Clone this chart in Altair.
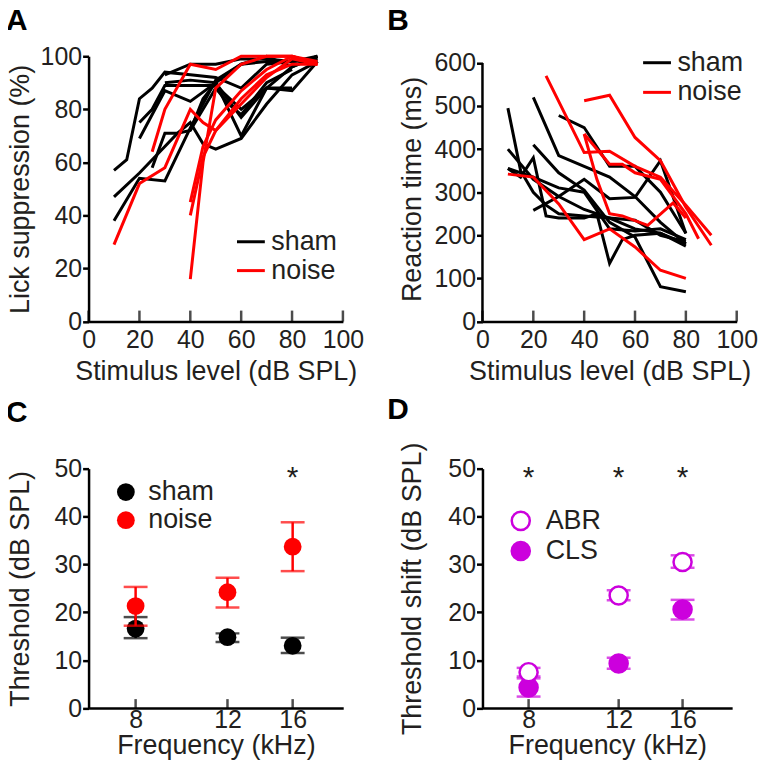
import altair as alt
import pandas as pd

FONT = "Liberation Sans"
TXT = "#231f20"
RED = "#ff0000"
MAG = "#cc00dd"

# ---------------- Panel A: lick suppression (%) per animal ----------------
A_sham_x = [
    [10, 15, 20, 25, 30, 40, 50, 60, 70, 80, 90],
    [10, 20, 30, 35, 40, 45, 50, 60, 70, 80, 90],
    [10, 20, 30, 40, 50, 60, 70, 80, 90],
    [20, 25, 30, 40, 50, 60, 70, 80],
    [20, 30, 40, 50, 60, 70, 80, 90],
    [25, 30, 35, 40, 50, 55, 60, 70, 80],
    [30, 40, 50, 60, 70, 80, 90],
    [40, 45, 50, 55, 60, 70, 80, 90],
    [30, 40, 50, 60, 70, 80, 90],
]
A_sham_y = [
    [57, 61, 84, 88, 94, 93, 92, 88, 97, 98, 100],
    [47, 56, 66, 71, 75, 67, 65, 69, 82, 93, 98],
    [38, 54, 53, 73, 91, 97, 98, 98, 99],
    [75, 80, 89, 89, 89, 80, 88, 88],
    [69, 87, 83, 90, 77, 88, 87, 98],
    [58, 71, 71, 72, 88, 82, 78, 90, 95],
    [90, 91, 90, 97, 100, 96, 100],
    [72, 84, 90, 80, 70, 88, 96, 100],
    [93, 97, 97, 99, 99, 98, 99],
]
A_noise_x = [
    [10, 20, 30, 40, 45, 50, 60, 70, 80, 90],
    [25, 30, 40, 50, 60, 70, 80, 90],
    [40, 45, 50, 60, 70, 80, 90],
    [40, 45, 50, 60, 70, 80, 90],
    [40, 45, 50, 60, 70, 80, 90],
]
A_noise_y = [
    [29, 52, 58, 80, 75, 72, 82, 92, 99, 97],
    [64, 80, 97, 95, 100, 100, 100, 97],
    [16, 60, 88, 97, 100, 100, 97],
    [40, 62, 72, 84, 93, 97, 97],
    [45, 66, 76, 87, 95, 100, 98],
]
A_y_ticks = [0, 20, 40, 60, 80, 100]

# ---------------- Panel B: reaction time (ms) per animal ----------------
B_sham_x = [
    [10, 15, 20, 25, 30, 40, 50, 60, 70, 80],
    [10, 20, 30, 40, 50, 60, 70, 80],
    [10, 15, 20, 25, 30, 40, 45, 50, 55, 60, 70, 80],
    [20, 30, 40, 50, 60, 70, 80],
    [30, 40, 50, 60, 70, 80],
    [20, 30, 40, 50, 60, 70, 80],
    [10, 20, 30, 40, 50, 60, 70, 80],
    [20, 30, 40, 50, 60, 70, 80],
]
B_sham_y = [
    [495, 350, 300, 270, 250, 245, 240, 215, 205, 175],
    [400, 330, 290, 260, 240, 235, 200, 185],
    [355, 335, 380, 245, 240, 240, 250, 135, 190, 200, 205, 180],
    [520, 385, 360, 335, 290, 230, 180],
    [478, 450, 360, 360, 300, 205],
    [258, 290, 330, 285, 288, 373, 204],
    [355, 335, 310, 300, 215, 210, 215, 190],
    [410, 345, 305, 230, 196, 81, 69],
]
B_noise_x = [
    [25, 40, 50, 60, 70, 80, 90],
    [40, 50, 60, 70, 80, 90],
    [40, 50, 55, 60, 70, 80, 85],
    [10, 20, 30, 40, 50, 60, 70, 80],
    [40, 45, 50, 55, 65, 75, 80],
]
B_noise_y = [
    [570, 392, 395, 360, 335, 270, 200],
    [512, 525, 427, 373, 265, 177],
    [435, 365, 365, 345, 330, 250, 192],
    [342, 335, 273, 190, 215, 173, 119, 100],
    [435, 330, 250, 245, 223, 275, 240],
]
B_y_ticks = [0, 100, 200, 300, 400, 500, 600]

LEVEL_TICKS = [0, 20, 40, 60, 80, 100]

# ---------------- Panel C: behavioural threshold (dB SPL) ----------------
FREQS = [8, 12, 16]
C_sham_mean = [16.6, 14.8, 13.0]
C_sham_lo = [14.6, 13.8, 11.5]
C_sham_hi = [19.0, 15.6, 14.7]
C_noise_mean = [21.3, 24.2, 33.7]
C_noise_lo = [17.2, 21.0, 28.6]
C_noise_hi = [25.3, 27.2, 38.8]
C_star_freq = [16]
C_star_y = [46.2]

# ---------------- Panel D: threshold shift (dB) ----------------
D_abr_mean = [7.5, 23.5, 30.5]
D_abr_lo = [6.6, 22.5, 29.3]
D_abr_hi = [8.4, 24.6, 31.9]
D_cls_mean = [4.3, 9.3, 20.6]
D_cls_lo = [2.4, 8.2, 18.5]
D_cls_hi = [6.2, 10.5, 22.6]
D_star_freq = [8, 12, 16]
D_star_y = [46.2, 46.2, 46.2]
TH_TICKS = [0, 10, 20, 30, 40, 50]


def lines_df(xs, ys, group):
    rows = []
    for i, (lx, ly) in enumerate(zip(xs, ys)):
        for x, y in zip(lx, ly):
            rows.append({"x": x, "y": y, "group": group, "id": f"{group}{i}"})
    return pd.DataFrame(rows)


def letter(t, dx, dy):
    return alt.TitleParams(t, anchor="start", frame="group", fontSize=30, fontWeight="bold",
                           font=FONT, color="black", dx=dx, dy=dy)


def line_panel(sx, sy, nx, ny, ymax, yvals, ytitle, w, h, let, ldx, ldy, legx, legy, rowpad,
               ytitlex, hide_domain):
    df = pd.concat([lines_df(sx, sy, "sham"), lines_df(nx, ny, "noise")], ignore_index=True)
    X = alt.X("x:Q", scale=alt.Scale(domain=[0, 100], nice=False),
              axis=alt.Axis(values=LEVEL_TICKS, ticks=False, tickSize=0, labelPadding=6,
                            labelFlush=False,
                            title="Stimulus level (dB SPL)", titleY=58,
                            titleBaseline="alphabetic"))
    yax = dict(values=yvals, title=ytitle, titleX=ytitlex)
    if hide_domain:
        yax["domain"] = False
    Y = alt.Y("y:Q", scale=alt.Scale(domain=[0, ymax], nice=False), axis=alt.Axis(**yax))
    color = alt.Color("group:N", scale=alt.Scale(domain=["sham", "noise"], range=["black", RED]),
                      legend=alt.Legend(title=None, orient="none", legendX=legx, legendY=legy,
                                        symbolType="stroke", symbolSize=784, symbolStrokeWidth=3,
                                        labelFontSize=27, labelFont=FONT, labelColor=TXT,
                                        labelOffset=5, rowPadding=rowpad, padding=0))
    base = alt.Chart(df)
    sham = base.transform_filter(alt.datum.group == "sham").mark_line(strokeWidth=3).encode(
        x=X, y=Y, color=color, detail="id:N")
    noise = base.transform_filter(alt.datum.group == "noise").mark_line(strokeWidth=3).encode(
        x=X, y=Y, color=color, detail="id:N")
    ticks = alt.Chart(pd.DataFrame({"x": LEVEL_TICKS})).mark_tick(
        orient="vertical", size=11, thickness=2.5, color="black", yOffset=-5.5).encode(
        x=X, y=alt.datum(0))
    layers = [sham, noise, ticks]
    if hide_domain:
        ax = alt.Chart(pd.DataFrame({"x": [0], "y": [0], "y2": [yvals[-1]]})).mark_rule(
            strokeWidth=2.5, color="black").encode(x=X, y=Y, y2="y2:Q")
        layers.append(ax)
    return alt.layer(*layers).properties(width=w, height=h, title=letter(let, ldx, ldy))


def freq_x(field):
    return alt.X(field, scale=alt.Scale(type="log", domain=[6.5, 20], nice=False),
                 axis=alt.Axis(values=FREQS, format="d", ticks=False, tickSize=0, labelPadding=0,
                               labelFlush=False,
                               title="Frequency (kHz)", titleY=46, titleBaseline="alphabetic"))


def th_y(field, title, tx):
    return alt.Y(field, scale=alt.Scale(domain=[0, 50], nice=False),
                 axis=alt.Axis(values=TH_TICKS, title=title, titleX=tx))


def errbars(df, col, title, tx):
    rule = alt.Chart(df).mark_rule(strokeWidth=2.5, color=col).encode(
        x=freq_x("f:Q"), y=th_y("lo:Q", title, tx), y2="hi:Q")
    caps = alt.Chart(df).transform_fold(["lo", "hi"], as_=["k", "v"]).mark_tick(
        orient="horizontal", size=24, thickness=2.5, color=col).encode(
        x=freq_x("f:Q"), y=th_y("v:Q", title, tx))
    return [rule, caps]


# ---- Panel C ----
C_TITLE = "Threshold (dB SPL)"
CX = -54
dfC_sham = pd.DataFrame({"f": FREQS, "m": C_sham_mean, "lo": C_sham_lo, "hi": C_sham_hi,
                         "group": ["sham"] * 3})
dfC_noise = pd.DataFrame({"f": FREQS, "m": C_noise_mean, "lo": C_noise_lo, "hi": C_noise_hi,
                          "group": ["noise"] * 3})
c_color = alt.Color("group:N", scale=alt.Scale(domain=["sham", "noise"], range=["black", RED]),
                    legend=alt.Legend(title=None, orient="none", legendX=24, legendY=10,
                                      symbolType="circle", symbolSize=320, symbolOpacity=1,
                                      labelFontSize=27, labelFont=FONT, labelColor=TXT,
                                      labelOffset=9, rowPadding=0.3, padding=0))
C_layers = []
C_layers += errbars(dfC_sham, "black", C_TITLE, CX)
C_layers.append(alt.Chart(dfC_sham).mark_circle(size=320, opacity=1).encode(
    x=freq_x("f:Q"), y=th_y("m:Q", C_TITLE, CX), color=c_color))
C_layers += errbars(dfC_noise, RED, C_TITLE, CX)
C_layers.append(alt.Chart(dfC_noise).mark_circle(size=320, opacity=1).encode(
    x=freq_x("f:Q"), y=th_y("m:Q", C_TITLE, CX), color=c_color))
C_layers.append(alt.Chart(pd.DataFrame({"f": C_star_freq, "s": C_star_y, "t": ["*"]})).mark_text(
    fontSize=30, font=FONT, color=TXT, baseline="alphabetic").encode(
    x=freq_x("f:Q"), y=th_y("s:Q", C_TITLE, CX), text="t:N"))
C_layers.append(alt.Chart(pd.DataFrame({"f": FREQS})).mark_tick(
    orient="vertical", size=9, thickness=2.5, color="black", yOffset=-4.5).encode(
    x=freq_x("f:Q"), y=alt.datum(0)))
panelC = alt.layer(*C_layers).properties(width=256, height=240.7, title=letter("C", -83, -25))

# ---- Panel D ----
D_TITLE = "Threshold shift (dB SPL)"
DX = -56
dfD_abr = pd.DataFrame({"f": FREQS, "m": D_abr_mean, "lo": D_abr_lo, "hi": D_abr_hi,
                        "method": ["ABR"] * 3})
dfD_cls = pd.DataFrame({"f": FREQS, "m": D_cls_mean, "lo": D_cls_lo, "hi": D_cls_hi,
                        "method": ["CLS"] * 3})
d_fill = alt.Fill("method:N", scale=alt.Scale(domain=["ABR", "CLS"], range=["white", MAG]),
                  legend=alt.Legend(title=None, orient="none", legendX=25, legendY=39,
                                    symbolType="circle", symbolSize=330, symbolOpacity=1,
                                    symbolStrokeColor=MAG, symbolStrokeWidth=2.5,
                                    labelFontSize=27, labelFont=FONT, labelColor=TXT,
                                    labelOffset=11.5, rowPadding=1.2, padding=0))
D_layers = []
D_layers += errbars(dfD_cls, MAG, D_TITLE, DX)
D_layers += errbars(dfD_abr, MAG, D_TITLE, DX)
D_layers.append(alt.Chart(dfD_cls).mark_point(shape="circle", filled=True, size=330, opacity=1,
                                              stroke=MAG, strokeWidth=2.5).encode(
    x=freq_x("f:Q"), y=th_y("m:Q", D_TITLE, DX), fill=d_fill))
D_layers.append(alt.Chart(dfD_abr).mark_point(shape="circle", filled=True, size=330, opacity=1,
                                              stroke=MAG, strokeWidth=2.5).encode(
    x=freq_x("f:Q"), y=th_y("m:Q", D_TITLE, DX), fill=d_fill))
D_layers.append(alt.Chart(pd.DataFrame({"f": D_star_freq, "s": D_star_y, "t": ["*"] * 3})).mark_text(
    fontSize=30, font=FONT, color=TXT, baseline="alphabetic").encode(
    x=freq_x("f:Q"), y=th_y("s:Q", D_TITLE, DX), text="t:N"))
D_layers.append(alt.Chart(pd.DataFrame({"f": FREQS})).mark_tick(
    orient="vertical", size=9, thickness=2.5, color="black", yOffset=-4.5).encode(
    x=freq_x("f:Q"), y=alt.datum(0)))
panelD = alt.layer(*D_layers).properties(width=251, height=240.7, title=letter("D", -95.7, -13))

panelA = line_panel(A_sham_x, A_sham_y, A_noise_x, A_noise_y, 100, A_y_ticks,
                    "Lick suppression (%)", 255.7, 266.7, "A", -83, -4, 147.7, 171, -2.6, -54,
                    False)
panelB = line_panel(B_sham_x, B_sham_y, B_noise_x, B_noise_y, 615.4, B_y_ticks,
                    "Reaction time (ms)", 255.6, 266.7, "B", -95.7, -7.4, 160, -9, 0.8, -56,
                    True)

chart = alt.concat(
    panelA, panelB, panelC, panelD, columns=2,
    spacing={"row": 147.6, "column": 140}, bounds="flush",
).resolve_scale(
    x="independent", y="independent", color="independent", fill="independent",
).resolve_legend(
    color="independent", fill="independent",
).properties(
    padding={"left": -2, "top": -4.5, "right": 0, "bottom": 0},
    background="white",
).configure_axis(
    domainColor="black", domainWidth=2.5, tickColor="black", tickWidth=2.5, tickSize=6,
    labelFont=FONT, labelFontSize=25, labelColor=TXT, labelPadding=1, labelOverlap=False,
    titleFont=FONT, titleFontSize=27, titleFontWeight="normal", titleColor=TXT, grid=False,
).configure_view(stroke=None)

chart.save("out.html", embed_options={"renderer": "svg", "actions": False})
